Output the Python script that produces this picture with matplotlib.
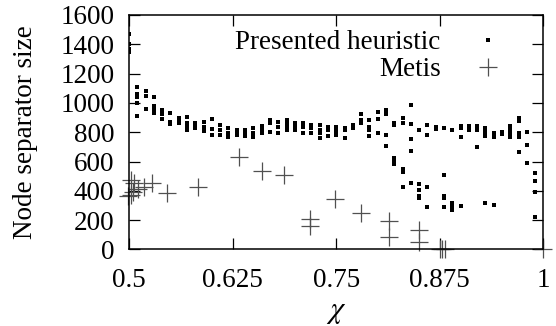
import numpy as np
import matplotlib
matplotlib.use("Agg")
import matplotlib.pyplot as plt

plt.rcParams.update({
    "font.family": "serif",
    "font.serif": ["Liberation Serif", "DejaVu Serif"],
    "mathtext.fontset": "stix",
    "font.size": 19.5,
})

# ── Presented heuristic: several runs per chi value ──
heur_chi = [0.50, 0.51, 0.52, 0.53, 0.54, 0.55, 0.56, 0.57, 0.58, 0.59,
            0.60, 0.61, 0.62, 0.63, 0.64, 0.65, 0.66, 0.67, 0.68, 0.69,
            0.70, 0.71, 0.72, 0.73, 0.74, 0.75, 0.76, 0.77, 0.78, 0.79,
            0.80, 0.81, 0.82, 0.83, 0.84, 0.85, 0.86, 0.87, 0.88, 0.89,
            0.90, 0.91, 0.92, 0.93, 0.94, 0.95, 0.96, 0.97, 0.98, 0.99]
heur_vals = [
    [1470, 1404, 1370, 1350],
    [1110, 1060, 1040, 1000, 910],
    [1080, 1050, 960],
    [1040, 980, 957, 930],
    [953, 923, 891],
    [934, 873, 857],
    [896, 880, 862],
    [907, 866, 839, 816],
    [866, 843, 828],
    [873, 836, 807],
    [887, 823, 782],
    [850, 816, 782],
    [828, 794, 770],
    [816, 794, 780],
    [816, 798, 775],
    [828, 794, 766],
    [843, 821, 794],
    [884, 862, 805],
    [873, 839, 794],
    [884, 862, 839, 816],
    [862, 839, 816],
    [862, 839, 794],
    [850, 828, 794],
    [850, 816, 798, 760],
    [839, 816, 775],
    [839, 816, 794, 782],
    [828, 816, 760],
    [850, 828],
    [923, 884, 862],
    [884, 839, 816, 771],
    [937, 891, 798],
    [953, 923, 780, 707],
    [866, 850, 627, 604, 582],
    [896, 862, 548, 527, 429],
    [987, 855, 755, 670, 452],
    [816, 447, 406, 368, 350],
    [850, 782, 429, 292],
    [839, 820],
    [830, 509, 368, 350, 292],
    [812, 320, 304, 288, 270],
    [843, 828, 766, 299],
    [843, 816],
    [843, 816, 698],
    [828, 800, 773, 315],
    [795, 766, 304],
    [805, 785],
    [843, 816, 795, 766],
    [896, 877, 795, 766, 668],
    [805, 714, 589],
    [520, 470, 395, 224],
]

# ── Metis ──
metis_chi = [0.499, 0.502, 0.502, 0.505, 0.506, 0.511, 0.518, 0.528, 0.546,
             0.583, 0.633, 0.660, 0.687, 0.718, 0.718, 0.748, 0.780, 0.814,
             0.814, 0.850, 0.850, 0.875, 0.878, 0.881, 1.000]
metis_size = [367, 475, 372, 395, 452, 411, 425, 452, 388,
              425, 630, 536, 511, 208, 160, 345, 247, 197,
              87, 133, 53, 4, 0, 3, 0]

xticks = [0.5, 0.625, 0.75, 0.875, 1]
xtick_labels = ["0.5", "0.625", "0.75", "0.875", "1"]
yticks = list(range(0, 1601, 200))

hx = [c for c, vs in zip(heur_chi, heur_vals) for _ in vs]
hy = [v for vs in heur_vals for v in vs]

fig = plt.figure(figsize=(5.56, 3.26), dpi=100)
ax = fig.add_axes([0.232, 0.2347, 0.7455, 0.7193])

ax.plot(hx, hy, ls="none", marker="s", ms=2.4, mew=0, color="black",
        label="Presented heuristic", zorder=3)
ax.plot(metis_chi, metis_size, ls="none", marker="+", ms=12.5, mew=0.9,
        color="#505050", label="Metis", clip_on=False, zorder=2)

ax.set_xlim(0.5, 1)
ax.set_ylim(0, 1600)
ax.set_xticks(xticks)
ax.set_xticklabels(xtick_labels)
ax.set_yticks(yticks)
ax.tick_params(direction="in", length=8, width=0.9, top=True, right=True,
               labelsize=19.5)
ax.tick_params(axis="y", pad=10.5)
ax.tick_params(axis="x", pad=13)
for s in ax.spines.values():
    s.set_linewidth(1.1)

ax.set_xlabel(r"$\chi$", fontsize=22, labelpad=3)
ax.set_ylabel("Node separator size", labelpad=16)

ax.legend(loc="upper right", bbox_to_anchor=(0.931, 0.935), frameon=False,
          markerfirst=False, handletextpad=0.74, labelspacing=0.08,
          borderpad=0, borderaxespad=0, fontsize=19.5, numpoints=1)

fig.savefig("out.png", dpi=100)
